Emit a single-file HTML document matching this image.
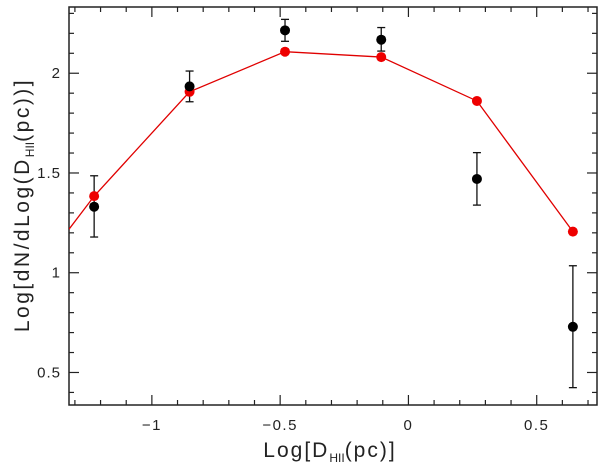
<!DOCTYPE html>
<html><head><meta charset="utf-8"><style>
html,body{margin:0;padding:0;background:#fff;}
svg{display:block;font-family:"Liberation Sans","DejaVu Sans",sans-serif;}
</style></head><body>
<svg id="chart" width="600" height="470"></svg>
<script>
const xCats = [-1.225, -0.853, -0.481, -0.106, 0.267, 0.641];
const modelVals = [1.384, 1.907, 2.108, 2.081, 1.861, 1.206];
const modelStartX = [-1.323];
const modelStartY = [1.218];
const obsVals = [1.331, 1.934, 2.215, 2.168, 1.470, 0.729];
const obsHigh = [1.486, 2.011, 2.270, 2.229, 1.602, 1.035];
const obsLow = [1.179, 1.857, 2.160, 2.111, 1.339, 0.424];
const xTicks = [-1, -0.5, 0, 0.5];
const xTickLabels = ["\u22121", "\u22120.5", "0", "0.5"];
const yTicks = [0.5, 1, 1.5, 2];
const yTickLabels = ["0.5", "1", "1.5", "2"];

const L=69,R=597,T=7,B=405;
const X0=-1.323,X1=0.735,Y0=0.337,Y1=2.332;
function sx(v){return L+(v-X0)/(X1-X0)*(R-L);}
function sy(v){return B-(v-Y0)/(Y1-Y0)*(B-T);}
const NS="http://www.w3.org/2000/svg";
const svg=document.getElementById('chart');
function mk(tag,attrs,parent){const e=document.createElementNS(NS,tag);for(const k in attrs)e.setAttribute(k,attrs[k]);(parent||svg).appendChild(e);return e;}

const defs=mk('defs',{});
const cp=mk('clipPath',{id:'clip'},defs);
mk('rect',{x:L,y:T,width:R-L,height:B-T},cp);

const axes=mk('g',{stroke:'#222','stroke-width':1.2});


for(let i=-13;i<=7;i++){const v=i/10;if(v<X0||v>X1)continue;const x=sx(v);const len=(i%5===0)?10:5;
 mk('line',{x1:x,y1:B,x2:x,y2:B-len},axes);mk('line',{x1:x,y1:T,x2:x,y2:T+len},axes);}
for(let i=4;i<=23;i++){const v=i/10;if(v<Y0||v>Y1)continue;const y=sy(v);const len=(i%5===0)?10:5;
 mk('line',{x1:L,y1:y,x2:L+len,y2:y},axes);mk('line',{x1:R,y1:y,x2:R-len,y2:y},axes);}
const frame=mk('rect',{x:L,y:T,width:R-L,height:B-T,fill:'none',stroke:'#222','stroke-width':1.5});



xTicks.forEach((v,i)=>{const t=mk('text',{x:sx(v),y:430,'font-size':15,'text-anchor':'middle',fill:'#222','letter-spacing':'1.5'});
 t.textContent=xTickLabels[i];
 
 });
yTicks.forEach((v,i)=>{const t=mk('text',{x:61,y:sy(v)+5,'font-size':15,'text-anchor':'end',fill:'#222','letter-spacing':'1'});
 t.textContent=yTickLabels[i];
 
 });

const g=mk('g',{'clip-path':'url(#clip)'});
const pts=[[modelStartX[0],modelStartY[0]]].concat(xCats.map((x,i)=>[x,modelVals[i]]));
const pl=mk('polyline',{points:pts.map(p=>sx(p[0])+','+sy(p[1])).join(' '),fill:'none',stroke:'#e00000','stroke-width':1.3},g);



xCats.forEach((x,i)=>{const cx=sx(x);
 const eb=mk('g',{stroke:'#111','stroke-width':1.3});
 
 
 mk('line',{x1:cx,y1:sy(obsHigh[i]),x2:cx,y2:sy(obsLow[i])},eb);
 mk('line',{x1:cx-4,y1:sy(obsHigh[i]),x2:cx+4,y2:sy(obsHigh[i])},eb);
 mk('line',{x1:cx-4,y1:sy(obsLow[i]),x2:cx+4,y2:sy(obsLow[i])},eb);
});
xCats.forEach((x,i)=>{const c=mk('circle',{cx:sx(x),cy:sy(modelVals[i]),r:5,fill:'#ee0000'});
 
 });
xCats.forEach((x,i)=>{const c=mk('circle',{cx:sx(x),cy:sy(obsVals[i]),r:5,fill:'#000'});
 
 });
</script>
<div style="position:absolute;left:0;top:0;width:600px;height:470px;pointer-events:none;font-family:'Liberation Sans','DejaVu Sans',sans-serif;color:#222;">
 <div style="position:absolute;left:0;width:600px;top:439px;text-align:center;padding-left:60px;box-sizing:border-box;font-size:21px;letter-spacing:2px;">Log[D<sub style="font-size:12px;letter-spacing:0;">HII</sub>(pc)]</div>
 <div style="position:absolute;left:24px;top:205px;transform:translate(-50%,-50%) rotate(-90deg);white-space:nowrap;font-size:21px;letter-spacing:2.5px;">Log[dN/dLog(D<sub style="font-size:12px;letter-spacing:0;">HII</sub>(pc))]</div>
</div>
</body></html>
